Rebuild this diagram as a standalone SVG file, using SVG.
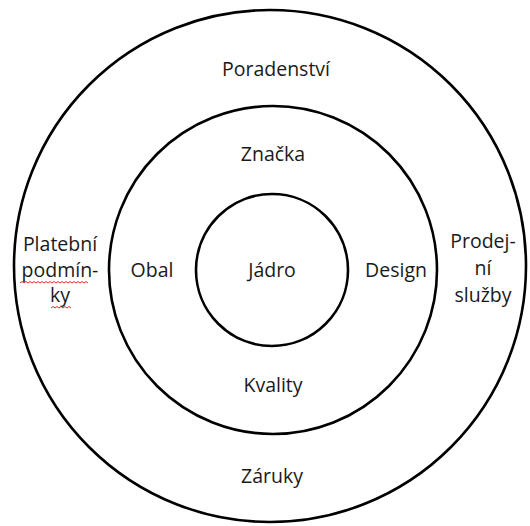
<svg xmlns="http://www.w3.org/2000/svg" width="530" height="526" viewBox="0 0 530 526">
<style>
.ring{fill:none;stroke:#000;stroke-width:2.6}
.t{font-family:"Open Sans","Liberation Sans",sans-serif;font-size:19.5px;fill:#1a1a1a;text-anchor:middle}
.sq{fill:none;stroke:#d9312b;stroke-width:1}
</style>
<rect width="530" height="526" fill="#fff"/>
<g id="outer"><circle class="ring" cx="270" cy="266" r="256"/></g>
<g id="middle"><circle class="ring" cx="273" cy="270" r="164"/></g>
<g id="inner"><circle class="ring" cx="272" cy="270" r="76"/></g>
<g id="connectors"/>
<g id="labels">
<text class="t" x="276" y="76">Poradenství</text>
<text class="t" x="273" y="161">Značka</text>
<text class="t" x="272" y="277">Jádro</text>
<text class="t" x="152" y="277">Obal</text>
<text class="t" x="396" y="277">Design</text>
<text class="t" x="273" y="392">Kvality</text>
<text class="t" x="272" y="483">Záruky</text>
<text class="t" x="60"><tspan x="60" y="251">Platební</tspan><tspan x="60" y="277">podmín-</tspan><tspan x="60" y="302">ky</tspan></text>
<text class="t" x="483"><tspan x="483" y="248">Prodej-</tspan><tspan x="483" y="275">ní</tspan><tspan x="483" y="302">služby</tspan></text>
</g>
<g id="spellcheck">
<path class="sq" d="M20 283 l2 -1.5 l2 1.5 l2 -1.5 l2 1.5 l2 -1.5 l2 1.5 l2 -1.5 l2 1.5 l2 -1.5 l2 1.5 l2 -1.5 l2 1.5 l2 -1.5 l2 1.5 l2 -1.5 l2 1.5 l2 -1.5 l2 1.5 l2 -1.5 l2 1.5 l2 -1.5 l2 1.5 l2 -1.5 l2 1.5 l2 -1.5 l2 1.5 l2 -1.5 l2 1.5 l2 -1.5 l2 1.5 l2 -1.5 l2 1.5 l2 -1.5 l2 1.5"/>
<path class="sq" d="M51 308 l2 -1.5 l2 1.5 l2 -1.5 l2 1.5 l2 -1.5 l2 1.5 l2 -1.5 l2 1.5 l2 -1.5 l2 1.5"/>
</g>
</svg>
